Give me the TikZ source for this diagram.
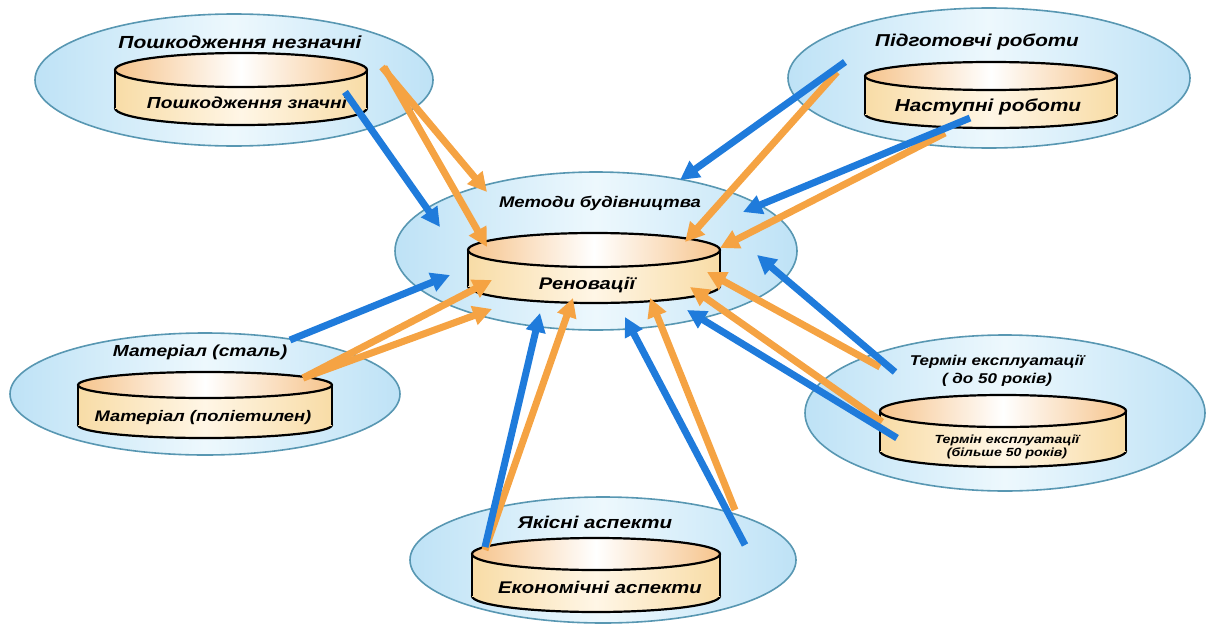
\documentclass[tikz,border=0pt]{standalone}
\usepackage{fontspec}
\setmainfont{Liberation Sans}[FakeStretch=1.2]
\usetikzlibrary{arrows.meta}
\definecolor{haloblue}{HTML}{BEE2F6}
\definecolor{halomid}{HTML}{EDF8FD}
\definecolor{haloline}{HTML}{5897B2}
\definecolor{drumtan}{HTML}{F8DCA6}
\definecolor{drumlight}{HTML}{FFF6E6}
\definecolor{drumrim}{HTML}{F6C48C}
\definecolor{arrblue}{HTML}{1F7BDB}
\definecolor{arrorange}{HTML}{F5A343}
\tikzset{
  halo/.style={draw=haloline, line width=1.6pt, left color=haloblue, right color=haloblue, middle color=halomid},
  drumside/.style={left color=drumtan, right color=drumtan, middle color=drumlight},
  drumtop/.style={draw=black, line width=2.2pt, left color=drumrim, right color=drumrim, middle color=white},
  label/.style={font=\bfseries\itshape\fontsize{#1}{#1}\selectfont, inner sep=0pt, align=center},
  label/.default=16,
  bluearrow/.style={draw=arrblue, line width=7pt, -{Triangle[length=19pt,width=19pt]}},
  orangearrow/.style={draw=arrorange, line width=7pt, -{Triangle[length=19pt,width=19pt]}},
}
% outer ellipse: centre x, centre y, x radius, y radius
\newcommand{\halo}[4]{\path[halo] (#1,#2) ellipse (#3 and #4);}
% cylinder: centre x, top y, x radius, y radius, height
\newcommand{\drum}[5]{%
  \path[drumside, draw=black, line width=2.2pt] (#1,#2+#5) ellipse (#3 and #4);
  \path[drumside] (#1-#3,#2) rectangle (#1+#3,#2+#5);
  \draw[line width=2.2pt] (#1-#3,#2) -- (#1-#3,#2+#5) (#1+#3,#2) -- (#1+#3,#2+#5);
  \path[drumtop] (#1,#2) ellipse (#3 and #4);}
\begin{document}
\begin{tikzpicture}[x=1pt, y=-1pt]
  \useasboundingbox (0,0) rectangle (1206,626);

  % outer rings
  \halo{234}{80}{199}{66}
  \halo{989}{78}{201}{70}
  \halo{596}{251}{201}{79}
  \halo{205}{394}{195}{61}
  \halo{1005}{413}{200}{78}
  \halo{603}{560}{193}{63}

  % cylinders
  \drum{241}{70}{126}{17}{38}
  \drum{991}{76}{126}{14}{38}
  \drum{594}{250}{126}{17}{36}
  \drum{205}{385}{127}{13}{40}
  \drum{1003}{411}{123}{16}{40}
  \drum{596}{554}{124}{16}{42}

  % labels
  \node[label=17.5] (damminor) at (240,42) {Пошкодження незначні};
  \node[label] (dammajor) at (247,103) {Пошкодження значні};
  \node[label=17.2] (prepwork) at (977,42) {Підготовчі роботи};
  \node[label=17.3] (nextwork) at (988,107) {Наступні роботи};
  \node[label=15.4] (methods) at (600,203) {Методи будівництва};
  \node[label=16.8] (renov) at (587,285) {Реновації};
  \node[label] (steel) at (200,352) {Матеріал (сталь)};
  \node[label=15.3] (poly) at (203,418) {Матеріал (поліетилен)};
  \node[label=14.2] (lifeshort) at (997,371) {Термін експлуатації\\[4pt]( до 50 років)};
  \node[label=11.8] (lifelong) at (1007,447) {Термін експлуатації\\[1pt](більше 50 років)};
  \node[label=17.1] (quality) at (595,522) {Якісні аспекти};
  \node[label=16.9] (economy) at (600,587) {Економічні аспекти};

  % arrow ends
  \coordinate (b1s) at (345,92);  \coordinate (b1t) at (440,227);
  \coordinate (b2s) at (845,62);  \coordinate (b2t) at (680,180);
  \coordinate (b3s) at (970,118); \coordinate (b3t) at (743,212);
  \coordinate (b4s) at (290,340); \coordinate (b4t) at (450,275);
  \coordinate (b5s) at (895,372); \coordinate (b5t) at (757,255);
  \coordinate (b6s) at (897,438); \coordinate (b6t) at (687,310);
  \coordinate (b7s) at (485,547); \coordinate (b7t) at (540,313);
  \coordinate (b8s) at (745,545); \coordinate (b8t) at (625,317);
  \coordinate (o1s) at (382,67);  \coordinate (o1t) at (487,192);
  \coordinate (o2s) at (384,67);  \coordinate (o2t) at (487,247);
  \coordinate (o3s) at (837,72);  \coordinate (o3t) at (685,242);
  \coordinate (o4s) at (945,133); \coordinate (o4t) at (720,248);
  \coordinate (o5s) at (303,378); \coordinate (o5t) at (492,280);
  \coordinate (o6s) at (303,378); \coordinate (o6t) at (492,309);
  \coordinate (o7s) at (880,367); \coordinate (o7t) at (707,272);
  \coordinate (o8s) at (882,422); \coordinate (o8t) at (690,287);
  \coordinate (o9s) at (485,550); \coordinate (o9t) at (573,298);
  \coordinate (o10s) at (735,510); \coordinate (o10t) at (650,298);

  % arrows
  \foreach \i in {1,...,10}
    \draw[orangearrow] (o\i s) -- (o\i t);
  \foreach \i in {1,...,8}
    \draw[bluearrow] (b\i s) -- (b\i t);
\end{tikzpicture}
\end{document}
